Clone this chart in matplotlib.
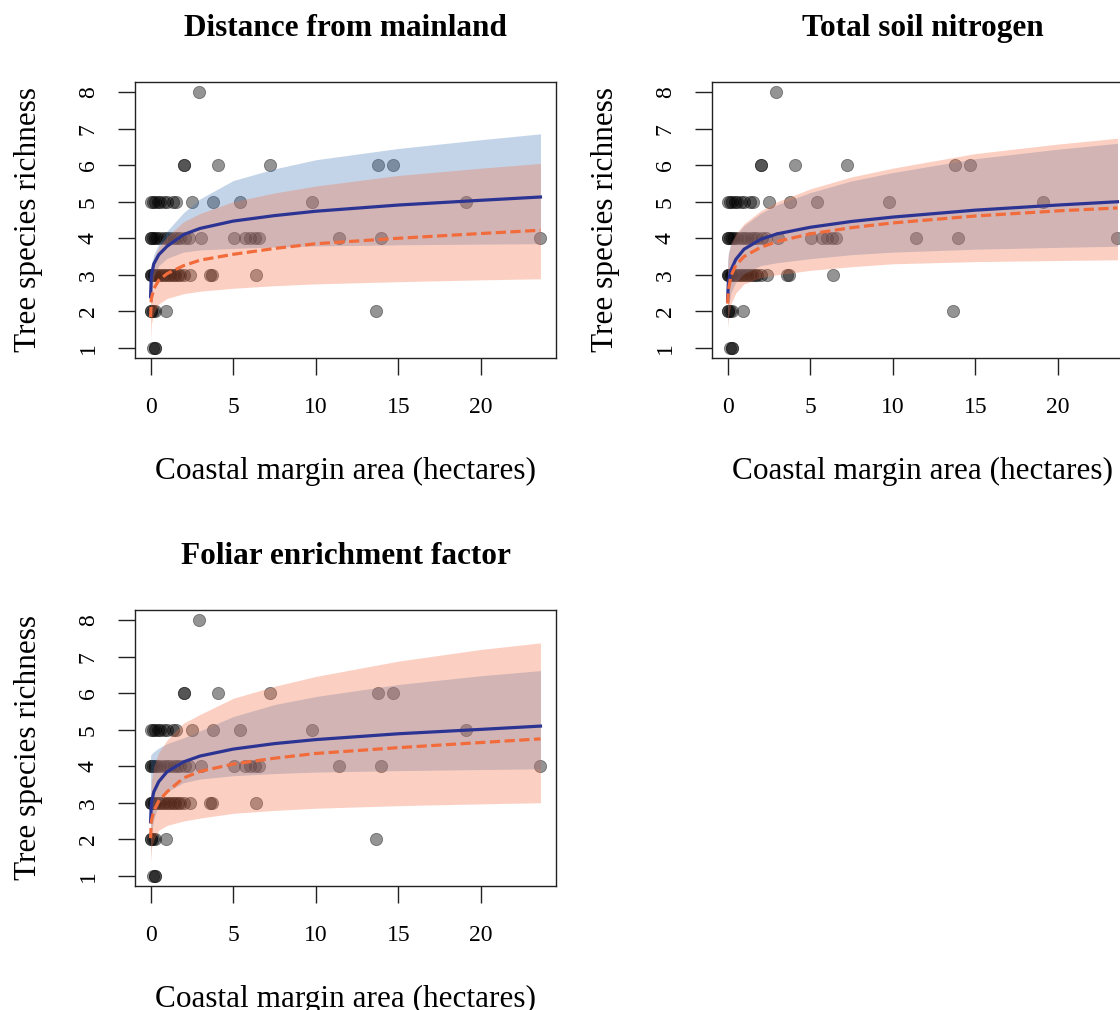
import matplotlib
matplotlib.use("Agg")
import matplotlib.pyplot as plt

plt.rcParams["font.family"] = ["Liberation Serif", "DejaVu Serif"]

# observed islands: coastal margin area (ha) and tree species richness
area = [2.94,
        2.0, 2.05, 4.09, 7.26, 13.77, 14.70,
        0.05, 0.16, 0.3, 0.45, 0.6, 0.8, 0.97, 1.37, 1.57, 2.5, 3.79, 5.4, 9.8, 19.1,
        0.0, 0.05, 0.12, 0.25, 0.4, 0.6, 0.8, 1.0, 1.2, 1.4, 1.6, 1.8, 2.1, 2.3,
        3.04, 5.06, 5.7, 6.0, 6.3, 6.57, 11.4, 13.95, 23.6,
        0.0, 0.02, 0.1, 0.2, 0.3, 0.45, 0.6, 0.75, 0.9, 1.05, 1.2, 1.35, 1.5,
        1.65, 1.8, 2.0, 2.38, 3.59, 3.75, 6.41,
        0.0, 0.05, 0.15, 0.3, 0.93, 13.67,
        0.15, 0.25, 0.3]
richness = [8,
            6, 6, 6, 6, 6, 6,
            5, 5, 5, 5, 5, 5, 5, 5, 5, 5, 5, 5, 5, 5,
            4, 4, 4, 4, 4, 4, 4, 4, 4, 4, 4, 4, 4, 4,
            4, 4, 4, 4, 4, 4, 4, 4, 4,
            3, 3, 3, 3, 3, 3, 3, 3, 3, 3, 3, 3, 3,
            3, 3, 3, 3, 3, 3, 3,
            2, 2, 2, 2, 2, 2,
            1, 1, 1]

# fitted curves, evaluated at these areas
curve_x = [0.003, 0.05, 0.2, 0.5, 1, 2, 3, 5, 7.5, 10, 15, 20, 23.6]

titles = ["Distance from mainland", "Total soil nitrogen", "Foliar enrichment factor"]

blue_fit = [
    [2.40, 3.00, 3.30, 3.55, 3.78, 4.10, 4.27, 4.47, 4.62, 4.74, 4.91, 5.04, 5.13],
    [2.30, 2.80, 3.12, 3.42, 3.70, 3.97, 4.12, 4.30, 4.46, 4.58, 4.77, 4.91, 5.00],
    [2.48, 3.00, 3.30, 3.58, 3.85, 4.12, 4.28, 4.47, 4.62, 4.73, 4.89, 5.01, 5.10],
]
blue_lo = [
    [1.69, 2.50, 2.95, 3.25, 3.45, 3.62, 3.68, 3.72, 3.76, 3.79, 3.82, 3.84, 3.85],
    [1.60, 2.10, 2.50, 2.80, 3.03, 3.25, 3.33, 3.44, 3.55, 3.62, 3.70, 3.75, 3.78],
    [1.45, 2.15, 2.55, 2.98, 3.30, 3.55, 3.65, 3.74, 3.80, 3.84, 3.88, 3.91, 3.93],
]
blue_hi = [
    [3.00, 3.30, 3.55, 3.85, 4.20, 4.70, 5.08, 5.58, 5.90, 6.15, 6.46, 6.70, 6.86],
    [3.35, 3.60, 3.85, 4.08, 4.35, 4.68, 4.92, 5.25, 5.57, 5.80, 6.18, 6.44, 6.60],
    [4.30, 4.33, 4.40, 4.50, 4.62, 4.78, 4.97, 5.36, 5.69, 5.91, 6.24, 6.48, 6.62],
]
red_fit = [
    [1.84, 2.35, 2.62, 2.85, 3.03, 3.25, 3.40, 3.56, 3.72, 3.85, 4.00, 4.13, 4.22],
    [2.21, 2.57, 2.96, 3.26, 3.50, 3.75, 3.91, 4.12, 4.29, 4.42, 4.61, 4.75, 4.83],
    [2.03, 2.50, 2.78, 3.05, 3.30, 3.68, 3.86, 4.06, 4.22, 4.35, 4.51, 4.65, 4.75],
]
red_lo = [
    [1.20, 1.65, 1.95, 2.20, 2.35, 2.48, 2.55, 2.63, 2.70, 2.75, 2.81, 2.86, 2.89],
    [1.55, 1.85, 2.20, 2.50, 2.75, 2.92, 3.00, 3.12, 3.22, 3.30, 3.36, 3.39, 3.41],
    [1.35, 1.75, 2.00, 2.25, 2.38, 2.50, 2.58, 2.71, 2.79, 2.85, 2.92, 2.97, 3.00],
]
red_hi = [
    [2.80, 3.10, 3.45, 3.75, 4.05, 4.45, 4.68, 5.00, 5.24, 5.43, 5.72, 5.92, 6.05],
    [3.20, 3.55, 3.85, 4.12, 4.40, 4.75, 5.00, 5.35, 5.68, 5.92, 6.32, 6.58, 6.74],
    [3.10, 3.60, 4.00, 4.38, 4.72, 5.18, 5.42, 5.86, 6.19, 6.46, 6.88, 7.20, 7.38],
]

fig = plt.figure(figsize=(11.2, 10.1), dpi=100)
W, H = 1120, 1010
boxes = [(135, 82), (712, 82), (135, 610)]  # left, top in pixels
bw, bh = 421, 276

for i in range(3):
    left, top = boxes[i]
    ax = fig.add_axes([left / W, 1 - (top + bh) / H, bw / W, bh / H])

    ax.scatter(area, richness, s=78, color="black", alpha=0.42,
               edgecolors="black", linewidths=0.6, zorder=1)
    ax.fill_between(curve_x, blue_lo[i], blue_hi[i], color="#4a7ebb",
                    alpha=0.33, linewidth=0, zorder=2)
    ax.fill_between(curve_x, red_lo[i], red_hi[i], color="#f4734a",
                    alpha=0.33, linewidth=0, zorder=3)
    ax.plot(curve_x, blue_fit[i], color="#2c3493", lw=2.3, zorder=4)
    ax.plot(curve_x, red_fit[i], color="#f26b3a", lw=2.3,
            linestyle=(0, (3.2, 1.4)), zorder=5)

    ax.set_xlim(-0.94, 24.54)
    ax.set_ylim(0.72, 8.28)
    ax.set_xticks([0, 5, 10, 15, 20])
    ax.set_yticks(range(1, 9))
    ax.tick_params(direction="out", length=12, width=1.0, labelsize=17,
                   pad=16, color="#222222")
    ax.tick_params(axis="y", labelrotation=90, pad=14)
    for lab in ax.get_yticklabels():
        lab.set_va("center")
    for sp in ax.spines.values():
        sp.set_linewidth(1.0)
        sp.set_color("#222222")

    ax.set_title(titles[i], fontsize=22.5, fontweight="bold", pad=33)
    ax.set_xlabel("Coastal margin area (hectares)", fontsize=22.5, labelpad=28)
    ax.set_ylabel("Tree species richness", fontsize=22.5, labelpad=25)

fig.savefig("out.png", dpi=100)
